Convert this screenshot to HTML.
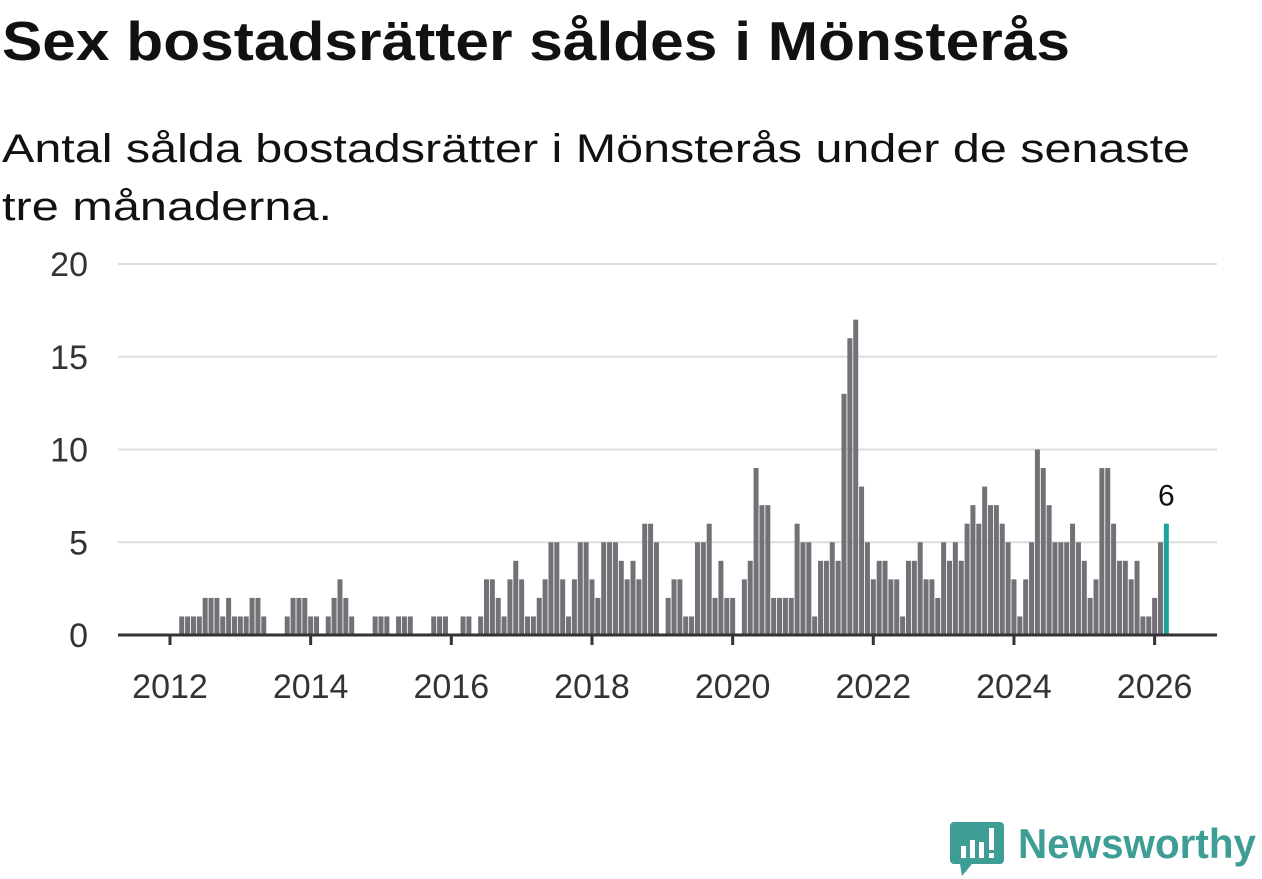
<!DOCTYPE html>
<html><head><meta charset="utf-8"><style>
html,body{margin:0;padding:0;background:#fff;}
svg{display:block;font-family:"Liberation Sans",sans-serif;}
</style></head><body>
<svg width="1262" height="879">
<text x="2" y="60" font-size="55" font-weight="bold" fill="#111" textLength="1068" lengthAdjust="spacingAndGlyphs">Sex bostadsrätter såldes i Mönsterås</text>
<text x="2" y="162" font-size="40" fill="#111" textLength="1188" lengthAdjust="spacingAndGlyphs">Antal sålda bostadsrätter i Mönsterås under de senaste</text>
<text x="2" y="220" font-size="40" fill="#111" textLength="330" lengthAdjust="spacingAndGlyphs">tre månaderna.</text>
<g id="grid"></g>
<g id="bars"></g>
<g id="axis"></g>
<g>
<path d="M954,822 h46 a4,4 0 0 1 4,4 v34 a4,4 0 0 1 -4,4 h-28 l-10,12 l-2,-12 h-6 a4,4 0 0 1 -4,-4 v-34 a4,4 0 0 1 4,-4z" fill="#3e9e96"/>
<rect x="961" y="846" width="5" height="12" fill="#fff"/>
<rect x="970" y="840" width="5" height="18" fill="#fff"/>
<rect x="979" y="842" width="5" height="16" fill="#fff"/>
<rect x="989" y="828" width="5" height="22" fill="#fff"/>
<rect x="989" y="853" width="5" height="5" fill="#fff"/>
<text x="1018" y="858" font-size="42" font-weight="bold" fill="#3e9e96" textLength="238" lengthAdjust="spacingAndGlyphs">Newsworthy</text>
</g>
</svg>
<script>
const values = [1,1,1,1,2,2,2,1,2,1,1,1,2,2,1,0,0,0,1,2,2,2,1,1,0,1,2,3,2,1,0,0,0,1,1,1,0,1,1,1,0,0,0,1,1,1,0,0,1,1,0,1,
3,3,2,1,3,4,3,1,1,2,3,5,5,3,1,3,5,5,3,2,5,5,5,4,3,4,3,6,6,5,0,
2,3,3,1,1,5,5,6,2,4,2,2,0,
3,4,9,7,7,2,2,2,2,6,5,5,1,4,4,5,
4,13,16,17,8,5,3,4,4,3,3,1,4,4,5,3,3,2,5,4,5,4,6,7,6,8,7,7,6,5,3,1,3,5,10,9,7,5,5,5,6,5,4,2,3,9,9,6,4,4,3,4,1,1,2,5,6];
const startYear = 2012, startMonth = 2;
const yTicks = [0,5,10,15,20];
const xTicks = [2012,2014,2016,2018,2020,2022,2024,2026];
const NS="http://www.w3.org/2000/svg";
function y(v){return 635 - v*(371/20);}
function xYear(yr){return 170 + (yr-2012)*70.33;}
function xMonth(i){
  const m = startMonth - 1 + i + 1;
  return xYear(startYear + m/12);
}
function mk(tag,attrs,parent){const e=document.createElementNS(NS,tag);for(const k in attrs)e.setAttribute(k,attrs[k]);parent.appendChild(e);return e;}
const grid=document.getElementById('grid'), bars=document.getElementById('bars'), axis=document.getElementById('axis');
yTicks.forEach(t=>{
  if(t>0){const l=mk('line',{x1:118,x2:1217,y1:y(t),y2:y(t),stroke:'#ddd','stroke-width':2},grid);
  
  }
  const tx=mk('text',{x:88,y:y(t)+12,'text-anchor':'end','font-size':34,fill:'#333'},grid);
  
  
  tx.textContent=t;
});
values.forEach((v,i)=>{
  if(v<=0)return;
  const last=i===values.length-1;
  const cx=xMonth(i);
  const r=mk('rect',{x:cx-2.5,y:y(v),width:5,height:635-y(v),fill:last?'#1ba39c':'#727178'},bars);
  
  
  if(last){const t=mk('text',{x:cx,y:y(v)-18,'text-anchor':'middle','font-size':30,fill:'#111'},bars);
  
  
  t.textContent=v;}
});
const base=mk('line',{x1:118,x2:1217,y1:635,y2:635,stroke:'#333','stroke-width':3},axis);


xTicks.forEach(t=>{
  const x=xYear(t);
  const l=mk('line',{x1:x,x2:x,y1:635,y2:645,stroke:'#333','stroke-width':3},axis);
  
  
  const tx=mk('text',{x:x,y:698,'text-anchor':'middle','font-size':34,fill:'#333'},axis);
  
  
  tx.textContent=t;
});
</script>
</body></html>
